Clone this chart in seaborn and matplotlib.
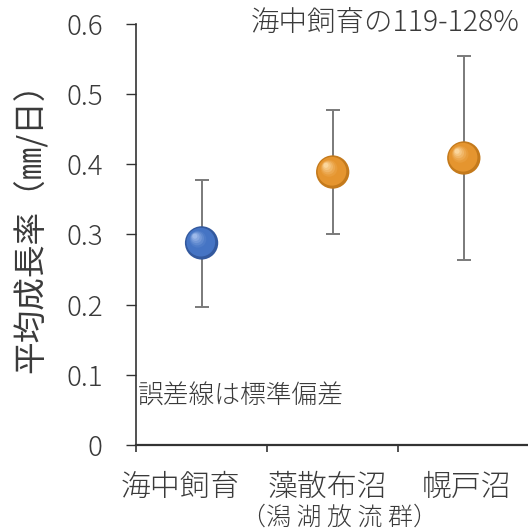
import numpy as np
import pandas as pd
import matplotlib
matplotlib.use("Agg")
import matplotlib.pyplot as plt
import matplotlib.transforms as mtrans
from matplotlib.colors import to_rgb
import seaborn as sns

# values
categories = ["海中飼育", "藻散布沼", "幌戸沼"]
sub_labels = ["", "（潟 湖 放 流 群）", ""]
mean_rate = [0.288, 0.389, 0.409]
err_low = [0.197, 0.301, 0.264]
err_high = [0.378, 0.477, 0.554]
group = ["sea", "lake", "lake"]
yticks = [0, 0.1, 0.2, 0.3, 0.4, 0.5, 0.6]
ytick_labels = ["0", "0.1", "0.2", "0.3", "0.4", "0.5", "0.6"]

ball_dark = {"sea": "#33599e", "lake": "#c47a1c"}
ball_mid = {"sea": "#4574c4", "lake": "#e5952f"}
ball_light = {"sea": "#9db9ea", "lake": "#fbd69c"}

sns.set_theme(style="white")
plt.rcParams["font.family"] = ["Noto Sans CJK JP", "DejaVu Sans"]
plt.rcParams["font.weight"] = "light"
text_col = "#3a3a3a"

df = pd.DataFrame({"pos": np.arange(len(categories)), "mean": mean_rate,
                   "low": err_low, "high": err_high, "group": group})

fig = plt.figure(figsize=(5.28, 5.32), dpi=100)
ax = fig.add_axes([0.2576, 0.1635, 0.745, 0.7915])

yerr = np.vstack([df["mean"] - df["low"], df["high"] - df["mean"]])
ax.errorbar(df["pos"], df["mean"], yerr=yerr, fmt="none", ecolor="#7a7a7a",
            elinewidth=1.4, capsize=4.8, capthick=1.4, zorder=2)

# base ball
D = 24.0  # marker diameter in points
sns.scatterplot(data=df, x="pos", y="mean", hue="group", palette=ball_dark,
                s=D ** 2, edgecolor="none", legend=False, ax=ax, zorder=3)

# shading layers to fake a 3D sphere
n = 10
for i in range(1, n):
    f = i / (n - 1)
    d = D * (1 - 0.8 * f) - 1.2
    off = (D - 1.2 - d) / 2 * 0.5
    tr = mtrans.offset_copy(ax.transData, fig=fig, x=-off, y=off, units="points")
    for g, sub in df.groupby("group"):
        c0 = np.array(to_rgb(ball_mid[g]))
        c1 = np.array(to_rgb(ball_light[g]))
        if f < 0.45:
            col = c0
        else:
            col = c0 + (c1 - c0) * ((f - 0.45) / 0.55) ** 1.3
        ax.scatter(sub["pos"], sub["mean"], s=d ** 2, color=col,
                   edgecolor="none", transform=tr, zorder=3 + i)

ax.set_xlim(-0.5, 2.5)
ax.set_ylim(0, 0.6)
ax.set_yticks(yticks)
ax.set_yticklabels(ytick_labels)
ax.set_xticks([-0.5, 0.5, 1.5])
ax.set_xticklabels([])
ax.set_xticks(df["pos"], minor=True)
ax.set_xticklabels(categories, minor=True, fontsize=21.5, color=text_col)
ax.tick_params(axis="x", which="minor", length=0, pad=20)
ax.tick_params(axis="x", which="major", direction="out", length=5,
               width=1.2, color="#333333", bottom=True)
ax.tick_params(axis="y", direction="out", length=7, width=1.0,
               color="#333333", left=True, pad=17, labelsize=20,
               labelcolor=text_col)

# category labels sit a little off-centre in the reference
label_shift = [-21, -5, 3]
for lab, dx in zip(ax.get_xticklabels(minor=True), label_shift):
    lab.set_transform(lab.get_transform() +
                      mtrans.ScaledTranslation(dx / 100, 0, fig.dpi_scale_trans))

# second line under the lagoon label
for p, s in zip(df["pos"], sub_labels):
    if s:
        ax.annotate(s, xy=(p, 0), xycoords=("data", "axes fraction"),
                    xytext=(5, -52), textcoords="offset points",
                    ha="center", va="center", fontsize=18, color=text_col,
                    annotation_clip=False)

sns.despine(ax=ax)
ax.spines["left"].set_color("#333333")
ax.spines["left"].set_linewidth(1.2)
ax.spines["bottom"].set_color("#333333")
ax.spines["bottom"].set_linewidth(1.6)
ax.set_xlabel("")

ax.set_ylabel("平均成長率（㎜/日）", fontsize=23.5, color=text_col)
ax.yaxis.set_label_coords(-0.225, 0.535)

ax.text(0.005, 0.115, "誤差線は標準偏差", transform=ax.transAxes,
        fontsize=18.5, color=text_col, ha="left", va="center")
fig.text(0.985, 0.957, "海中飼育の119-128%", fontsize=20.5,
         color=text_col, ha="right", va="center")

fig.savefig("out.png", dpi=100)
